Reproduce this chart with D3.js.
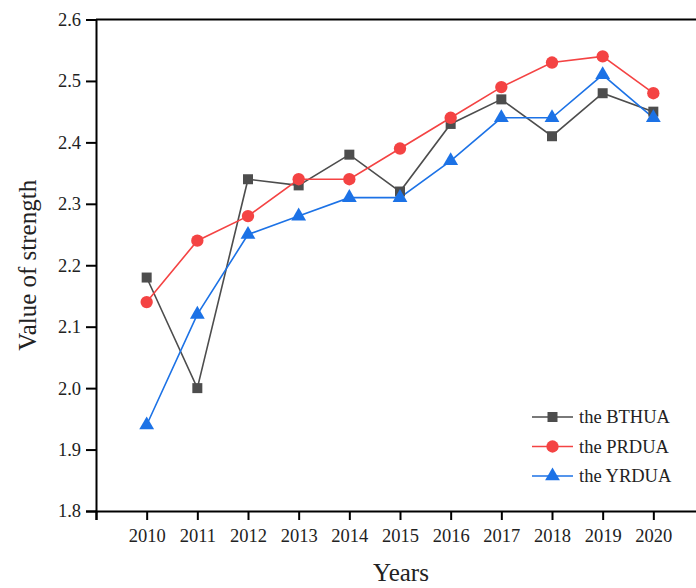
<!DOCTYPE html>
<html>
<head>
<meta charset="utf-8">
<script src="https://cdn.jsdelivr.net/npm/d3@7"></script>
<style>
  html, body { margin: 0; padding: 0; background: #fff; }
  svg { display: block; }
  svg text { font-family: "Liberation Serif", "Times New Roman", serif; }
</style>
</head>
<body>
<svg id="chart" width="696" height="588"></svg>
<script>
// Urban agglomeration strength values by year
const years = [2010, 2011, 2012, 2013, 2014, 2015, 2016, 2017, 2018, 2019, 2020];
const bthua = [2.18, 2.00, 2.34, 2.33, 2.38, 2.32, 2.43, 2.47, 2.41, 2.48, 2.45];
const prdua = [2.14, 2.24, 2.28, 2.34, 2.34, 2.39, 2.44, 2.49, 2.53, 2.54, 2.48];
const yrdua = [1.94, 2.12, 2.25, 2.28, 2.31, 2.31, 2.37, 2.44, 2.44, 2.51, 2.44];
const yTicks = [1.8, 1.9, 2.0, 2.1, 2.2, 2.3, 2.4, 2.5, 2.6];
const xTicks = [2009, ...years];

const seriesList = [
  { name: "the BTHUA", values: bthua, color: "#4d4d4d", symbol: d3.symbolSquare, size: 100 },
  { name: "the PRDUA", values: prdua, color: "#f44343", symbol: d3.symbolCircle, size: 120 },
  { name: "the YRDUA", values: yrdua, color: "#1c72e6", symbol: d3.symbolTriangle, size: 95 }
];

const svg = d3.select("#chart");
const plotLeft = 96, plotRight = 704, plotTop = 19.5, plotBottom = 511;

const x = d3.scaleLinear().domain([2009, 2021]).range([plotLeft, plotRight]);
const y = d3.scaleLinear().domain([1.8, 2.6]).range([plotBottom, plotTop]);

// Axes
const yAxis = svg.append("g")
  .attr("transform", `translate(${plotLeft},0)`)
  .call(d3.axisLeft(y).tickValues(yTicks).tickFormat(d3.format(".1f")).tickSize(10).tickPadding(5));
const xAxis = svg.append("g")
  .attr("transform", `translate(0,${plotBottom})`)
  .call(d3.axisBottom(x).tickValues(xTicks)
    .tickFormat(d => d === 2009 ? "" : d).tickSize(9).tickPadding(9));

[yAxis, xAxis].forEach(g => {
  g.attr("font-family", null).attr("font-size", null);
  g.select(".domain").attr("stroke", "#000").attr("stroke-width", 2);
  g.selectAll(".tick line").attr("stroke", "#000").attr("stroke-width", 2);
  g.selectAll(".tick text").attr("fill", "#222").style("font-size", "18.5px");
});

// Top frame line
svg.append("line")
  .attr("x1", plotLeft).attr("x2", plotRight).attr("y1", plotTop).attr("y2", plotTop)
  .attr("stroke", "#000").attr("stroke-width", 2);

// Axis titles
svg.append("text")
  .attr("x", 401).attr("y", 581)
  .attr("text-anchor", "middle").style("font-size", "25px").attr("fill", "#222")
  .text("Years");
svg.append("text")
  .attr("transform", `translate(36,${(plotTop + plotBottom) / 2}) rotate(-90)`)
  .attr("text-anchor", "middle").style("font-size", "25px").attr("fill", "#222")
  .text("Value of strength");

// Lines and markers
const line = d3.line().x((d, i) => x(years[i])).y(d => y(d));
seriesList.forEach(s => {
  svg.append("path")
    .datum(s.values)
    .attr("fill", "none")
    .attr("stroke", s.color)
    .attr("stroke-width", 1.6)
    .attr("d", line);
});
seriesList.forEach(s => {
  svg.append("g").selectAll("path")
    .data(s.values)
    .join("path")
    .attr("transform", (d, i) => `translate(${x(years[i])},${y(d)})`)
    .attr("d", d3.symbol().type(s.symbol).size(s.size))
    .attr("fill", s.color);
});

// Legend
const legend = svg.append("g");
seriesList.forEach((s, i) => {
  const ly = 417 + i * 29.5;
  legend.append("line")
    .attr("x1", 532).attr("x2", 573).attr("y1", ly).attr("y2", ly)
    .attr("stroke", s.color).attr("stroke-width", 1.6);
  legend.append("path")
    .attr("transform", `translate(552.5,${ly})`)
    .attr("d", d3.symbol().type(s.symbol).size(s.size))
    .attr("fill", s.color);
  legend.append("text")
    .attr("x", 579).attr("y", ly).attr("dy", "0.35em")
    .style("font-size", "18.5px").attr("fill", "#222")
    .text(s.name);
});
</script>
</body>
</html>
